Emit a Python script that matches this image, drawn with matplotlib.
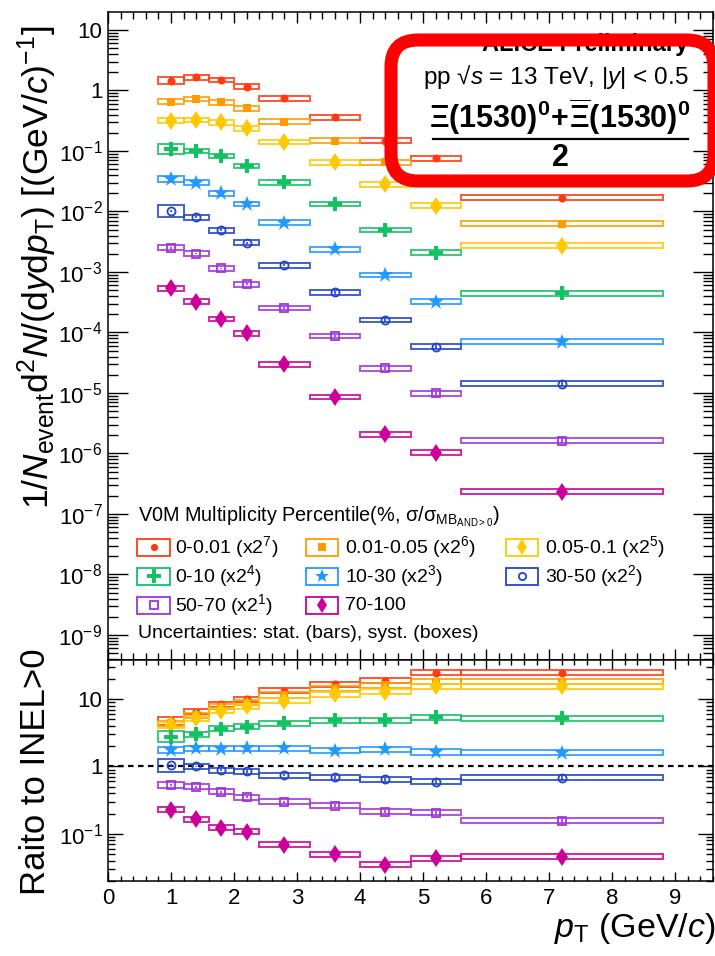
import math
import matplotlib
matplotlib.use("Agg")
import matplotlib.pyplot as plt
from matplotlib.patches import Rectangle, FancyBboxPatch
from matplotlib.transforms import IdentityTransform
from matplotlib.ticker import MultipleLocator, FixedLocator, FuncFormatter, NullFormatter

plt.rcParams['font.family'] = ['Liberation Sans', 'DejaVu Sans']
plt.rcParams['mathtext.fontset'] = 'custom'
plt.rcParams['mathtext.rm'] = 'Liberation Sans'
plt.rcParams['mathtext.it'] = 'Liberation Sans:italic'
plt.rcParams['mathtext.bf'] = 'Liberation Sans:bold'
plt.rcParams['mathtext.sf'] = 'Liberation Sans'

# pT binning (GeV/c)
pt_edges = [0.8, 1.2, 1.6, 2.0, 2.4, 3.2, 4.0, 4.8, 5.6, 8.8]
pt_centers = [1.0, 1.4, 1.8, 2.2, 2.8, 3.6, 4.4, 5.2, 7.2]

# multiplicity classes
class_labels = ["0-0.01 (x2$^{7}$)", "0.01-0.05 (x2$^{6}$)", "0.05-0.1 (x2$^{5}$)",
                "0-10 (x2$^{4}$)", "10-30 (x2$^{3}$)", "30-50 (x2$^{2}$)",
                "50-70 (x2$^{1}$)", "70-100"]
class_colors = ["#ff3a10", "#ff9a00", "#ffc800", "#12c262",
                "#2299ff", "#2244cc", "#a035dc", "#cc0099"]
class_markers = ["o", "s", "d", "P", "*", "o", "s", "d"]
class_msize = [5.8, 5.8, 9.5, 10.5, 12.0, 5.8, 5.8, 9.5]
class_filled = [True, True, True, True, True, False, False, True]

# scaled pT spectra, 1/N dN^2/(dy dpT)
spec_0_001 = [1.45, 1.65, 1.49, 1.16, 0.743, 0.36, 0.148, 0.0758, 0.0170]
spec_001_005 = [0.653, 0.724, 0.638, 0.508, 0.305, 0.148, 0.0645, 0.029, 0.0063]
spec_005_01 = [0.317, 0.325, 0.298, 0.237, 0.141, 0.065, 0.0280, 0.0125, 0.00272]
spec_0_10 = [0.107, 0.100, 0.0826, 0.0565, 0.0303, 0.0133, 0.00494, 0.00209, 0.000444]
spec_10_30 = [0.0344, 0.0299, 0.0199, 0.0133, 0.00653, 0.00237, 0.00089, 0.000323, 7.05e-5]
spec_30_50 = [0.0102, 0.00802, 0.00489, 0.00305, 0.00129, 0.000461, 0.000161, 5.83e-5, 1.43e-5]
spec_50_70 = [0.00252, 0.00201, 0.00115, 0.000625, 0.000254, 8.75e-5, 2.56e-5, 9.86e-6, 1.63e-6]
spec_70_100 = [0.000537, 0.000323, 0.000167, 9.68e-5, 2.98e-5, 8.6e-6, 2.07e-6, 1.03e-6, 2.34e-7]

# ratios to INEL>0
ratio_0_001 = [4.72, 6.48, 8.43, 9.9, 13.3, 16.5, 18.7, 24.5, 24.5]
ratio_001_005 = [4.37, 5.79, 7.69, 8.81, 11.5, 14.4, 16.1, 18.0, 18.0]
ratio_005_01 = [4.12, 5.17, 6.71, 7.87, 9.44, 11.7, 12.8, 15.6, 15.6]
ratio_0_10 = [2.77, 3.03, 3.63, 3.89, 4.37, 4.83, 4.83, 5.36, 5.23]
ratio_10_30 = [1.77, 1.86, 1.82, 1.86, 1.86, 1.71, 1.80, 1.64, 1.60]
ratio_30_50 = [1.04, 1.00, 0.877, 0.848, 0.74, 0.692, 0.646, 0.596, 0.682]
ratio_50_70 = [0.532, 0.502, 0.419, 0.349, 0.298, 0.263, 0.214, 0.205, 0.157]
ratio_70_100 = [0.229, 0.165, 0.123, 0.107, 0.069, 0.050, 0.0347, 0.0437, 0.0461]

# relative uncertainties
syst_first_bin = [0.13, 0.10, 0.10, 0.21, 0.11, 0.25, 0.11, 0.09]
syst_other_bins = [0.09, 0.09, 0.09, 0.09, 0.09, 0.09, 0.09, 0.09]
stat_rel = [0.04, 0.03, 0.03, 0.04, 0.04, 0.05, 0.06, 0.08, 0.10]

# axis ranges and decade ticks
spec_ylim = (3.86e-10, 19.8)
ratio_ylim = (0.02, 38)
spec_decades = list(range(-9, 2))
ratio_decades = [-1, 0, 1]

spectra = [spec_0_001, spec_001_005, spec_005_01, spec_0_10,
           spec_10_30, spec_30_50, spec_50_70, spec_70_100]
ratios = [ratio_0_001, ratio_001_005, ratio_005_01, ratio_0_10,
          ratio_10_30, ratio_30_50, ratio_50_70, ratio_70_100]

W, H = 715, 956
fig = plt.figure(figsize=(W / 100, H / 100), dpi=100)
L, R = 108 / W, 713 / W
ax1 = fig.add_axes([L, 1 - 660 / H, R - L, 648 / H])
ax2 = fig.add_axes([L, 1 - 881 / H, R - L, 221 / H], sharex=ax1)


def draw_class(ax, k, values):
    color = class_colors[k]
    for i, v in enumerate(values):
        s = syst_first_bin[k] if i == 0 else syst_other_bins[k]
        lo, hi = pt_edges[i], pt_edges[i + 1]
        ax.add_patch(Rectangle((lo, v / (1 + s)), hi - lo, v * (1 + s) - v / (1 + s),
                               fill=False, ec=color, lw=1.4, alpha=0.85, zorder=2))
    err = [v * e for v, e in zip(values, stat_rel)]
    ax.errorbar(pt_centers, values, yerr=err, fmt="none", ecolor=color,
                elinewidth=1.2, capsize=0, zorder=3)
    ax.plot(pt_centers, values, ls="none", marker=class_markers[k],
            ms=class_msize[k], color=color,
            mfc=color if class_filled[k] else "none", mec=color,
            mew=0 if class_filled[k] else 1.3, zorder=4)


for k in range(8):
    draw_class(ax1, k, spectra[k])
    draw_class(ax2, k, ratios[k])

ax2.axhline(1.0, color="black", ls=(0, (2.5, 2)), lw=1.6, zorder=1)


def log_fmt(v, pos):
    if abs(v - 10) < 1e-9:
        return "10"
    if abs(v - 1) < 1e-9:
        return "1"
    return r"$10^{%d}$" % round(math.log10(v))


def set_log_ticks(ax, ylim, decades):
    lo, hi = ylim
    majors = [10.0 ** d for d in decades]
    minors = [m * 10.0 ** d for d in range(decades[0] - 1, decades[-1] + 1)
              for m in range(2, 10) if lo <= m * 10.0 ** d <= hi]
    ax.set_ylim(lo, hi)
    ax.yaxis.set_major_locator(FixedLocator(majors))
    ax.yaxis.set_minor_locator(FixedLocator(minors))
    ax.yaxis.set_major_formatter(FuncFormatter(log_fmt))
    ax.yaxis.set_minor_formatter(NullFormatter())


for ax in (ax1, ax2):
    ax.set_yscale("log")
    ax.set_xlim(0, 9.6)
    ax.xaxis.set_major_locator(MultipleLocator(1))
    ax.xaxis.set_minor_locator(MultipleLocator(0.2))
    ax.tick_params(which="both", direction="in", top=True, right=True,
                   width=1.0, labelsize=16, pad=4)
    for sp in ax.spines.values():
        sp.set_linewidth(1.1)

set_log_ticks(ax1, spec_ylim, spec_decades)
set_log_ticks(ax2, ratio_ylim, ratio_decades)
ax1.tick_params(axis="y", which="major", length=14.5)
ax1.tick_params(axis="y", which="minor", length=7)
ax1.tick_params(axis="x", which="major", length=8)
ax1.tick_params(axis="x", which="minor", length=5)
ax2.tick_params(axis="y", which="major", length=11)
ax2.tick_params(axis="y", which="minor", length=5)
ax2.tick_params(axis="x", which="major", length=6.5)
ax2.tick_params(axis="x", which="minor", length=3.5)
ax1.tick_params(axis="x", labelbottom=False)
ax2.tick_params(axis="x", pad=5)

# axis titles
fig.text(37 / W, 1 - 267 / H,
         r"1/$N_{\mathrm{event}}$d$^{2}$$N$/(d$y$d$p_{\mathrm{T}}$) [(GeV/$c$)$^{-1}$]",
         rotation=90, ha="center", va="center", fontsize=25.5)
fig.text(36 / W, 1 - 772 / H, "Raito to INEL>0", rotation=90,
         ha="center", va="center", fontsize=25)
fig.text(716 / W, 1 - 929 / H, r"$p_{\mathrm{T}}$ (GeV/$c$)", ha="right",
         va="center", fontsize=24.5)

# legend
def ax_frac(px, py):
    return ((px - 108) / 605, (660 - py) / 648)


tx, ty = ax_frac(138, 517)
ax1.text(tx, ty, r"V0M Multiplicity Percentile(%, σ/σ$_{\mathrm{MB}_{\mathrm{AND>0}}}$)",
         transform=ax1.transAxes, ha="left", va="center", fontsize=14.3)
row_y = [547, 576, 605]
col_x = [(137, 170, 175), (306, 338, 345), (506, 538, 545)]
for k in range(8):
    r, c = divmod(k, 3)
    x0, x1, xt = col_x[c]
    bx0, by0 = ax_frac(x0, row_y[r] + 8.5)
    bx1, by1 = ax_frac(x1, row_y[r] - 8.5)
    color = class_colors[k]
    ax1.add_patch(Rectangle((bx0, by0), bx1 - bx0, by1 - by0, transform=ax1.transAxes,
                            fill=False, ec=color, lw=1.3, zorder=5))
    mx, my = ax_frac((x0 + x1) / 2, row_y[r])
    ax1.plot([mx], [my], transform=ax1.transAxes, ls="none", marker=class_markers[k],
             ms=class_msize[k] * 0.9, color=color,
             mfc=color if class_filled[k] else "none", mec=color,
             mew=0 if class_filled[k] else 1.3, zorder=6)
    lx, ly = ax_frac(xt, row_y[r])
    ax1.text(lx, ly, class_labels[k], transform=ax1.transAxes, ha="left",
             va="center", fontsize=14)
ux, uy = ax_frac(138, 633)
ax1.text(ux, uy, "Uncertainties: stat. (bars), syst. (boxes)", transform=ax1.transAxes,
         ha="left", va="center", fontsize=14)

# header text
fig.text(688 / W, 1 - 44 / H, "ALICE Preliminary", ha="right", va="center",
         fontsize=17, fontweight="bold")
fig.text(689 / W, 1 - 77 / H, "pp √$s$ = 13 TeV, |$y$| < 0.5", ha="right",
         va="center", fontsize=17.5)
fig.text(560 / W, 1 - 117 / H,
         r"$\mathbf{\Xi(1530)^{0}\!+\!\overline{\Xi}(1530)^{0}}$",
         ha="center", va="center", fontsize=22)
fig.add_artist(plt.Line2D([433 / W, 688 / W], [1 - 139 / H, 1 - 139 / H],
                          color="black", lw=1.6))
fig.text(560 / W, 1 - 158 / H, "2", ha="center", va="center", fontsize=22,
         fontweight="bold")

# highlight frame
fig.add_artist(FancyBboxPatch((391, H - 181), 323, 141,
                              boxstyle="round,pad=0,rounding_size=27",
                              transform=IdentityTransform(), fill=False,
                              ec="#ff0000", lw=9.4, zorder=20))

fig.savefig("out.png", dpi=100)
